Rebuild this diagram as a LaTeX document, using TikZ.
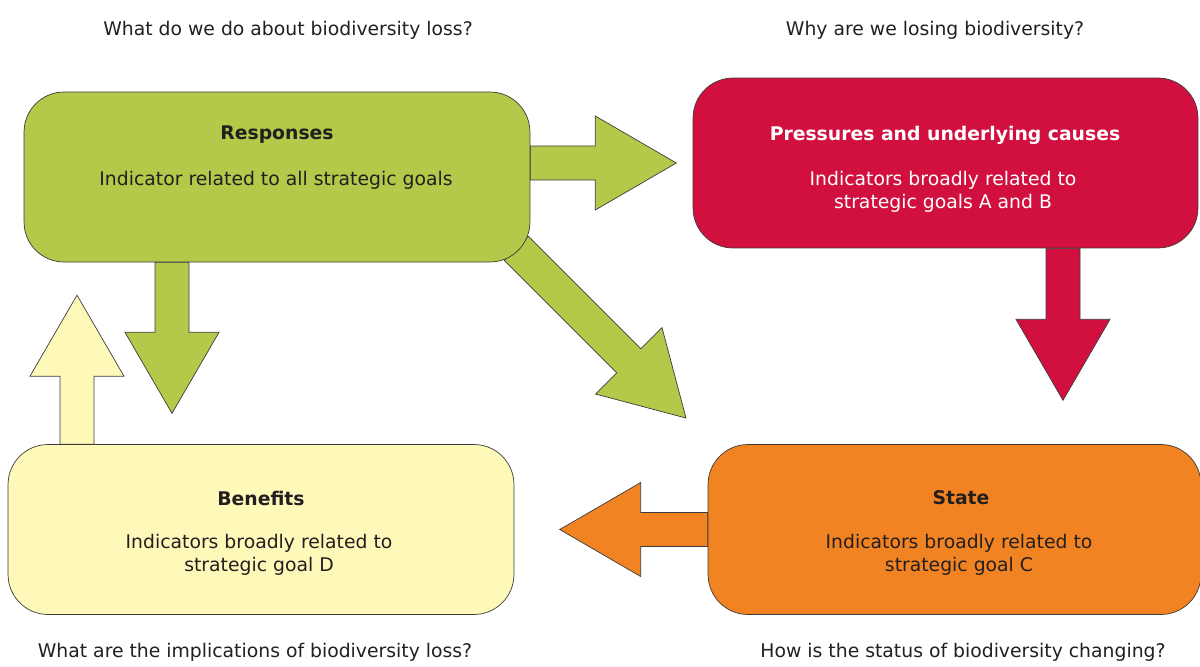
\documentclass[tikz,border=0pt]{standalone}
\usepackage{fontspec}
\setmainfont{DejaVu Sans}
\usetikzlibrary{calc,backgrounds}

\definecolor{respgreen}{RGB}{179,201,74}
\definecolor{presscrimson}{RGB}{210,16,64}
\definecolor{stateorange}{RGB}{242,131,34}
\definecolor{benyellow}{RGB}{255,249,185}
\definecolor{textdark}{RGB}{35,31,32}
\definecolor{linegray}{RGB}{60,60,60}

\begin{document}
\begin{tikzpicture}[x=0.02cm,y=-0.02cm,
 every node/.style={font=\fontsize{10.7}{13}\selectfont,text=textdark},
 box/.style={draw=linegray,line width=0.4pt,rounded corners=0.8cm,
 minimum height=3.4cm,inner sep=0pt},
 boxhead/.style={font=\fontsize{10.7}{13}\selectfont\bfseries},
 boxtxt/.style={align=center},
 arrowline/.style={draw=linegray,line width=0.4pt},
 blockarrow/.pic={\path[pic actions] (0,-17) -- (#1-81,-17) -- (#1-81,-47)
 -- (#1,0) -- (#1-81,47) -- (#1-81,17) -- (0,17) -- cycle;}]
  \useasboundingbox (0,0) rectangle (1200,666);

  % boxes
  \node[box,fill=respgreen,minimum width=10.12cm] (resp) at (277,177) {};
  \node[box,fill=presscrimson,minimum width=10.1cm] (press) at (945.5,163) {};
  \node[box,fill=benyellow,minimum width=10.12cm] (ben) at (261,529.5) {};
  \node[box,fill=stateorange,minimum width=9.86cm] (state) at (954.5,529.5) {};

  % block arrows behind the boxes
  \begin{scope}[on background layer]
  \path (resp.east|-press.west) pic[arrowline,fill=respgreen]{blockarrow=146};
  \path ($(resp.south)+(-105,0)$) pic[rotate=-90,arrowline,fill=respgreen]{blockarrow=151};
  \path ($(resp.south east)+(-14,-14)$) pic[rotate=-45,arrowline,fill=respgreen]{blockarrow=240};
  \path ($(press.south)+(117.5,0)$) pic[rotate=-90,arrowline,fill=presscrimson]{blockarrow=152};
  \path (state.west) pic[rotate=180,arrowline,fill=stateorange]{blockarrow=148};
  \path ($(ben.north)+(-184,0)$) pic[rotate=90,arrowline,fill=benyellow]{blockarrow=149};
  \end{scope}

  % box texts
  \node[boxhead] (resphead) at (277,135) {Responses};
  \node[boxtxt] (resptxt) at (276,180) {Indicator related to all strategic goals};
  \node[boxhead,text=white] (presshead) at (945,135) {Pressures and underlying causes};
  \node[boxtxt,text=white] (presstxt) at (943,192) {Indicators broadly related to\\ strategic goals A and B};
  \node[boxhead] (benhead) at (261,498) {Benefits};
  \node[boxtxt] (bentxt) at (259,555) {Indicators broadly related to\\ strategic goal D};
  \node[boxhead] (statehead) at (961,498) {State};
  \node[boxtxt] (statetxt) at (959,555) {Indicators broadly related to\\ strategic goal C};

  % questions
  \node (respq) at (288,30) {What do we do about biodiversity loss?};
  \node (pressq) at (935,30) {Why are we losing biodiversity?};
  \node (benq) at (255,652) {What are the implications of biodiversity loss?};
  \node (stateq) at (963,652) {How is the status of biodiversity changing?};
\end{tikzpicture}
\end{document}
